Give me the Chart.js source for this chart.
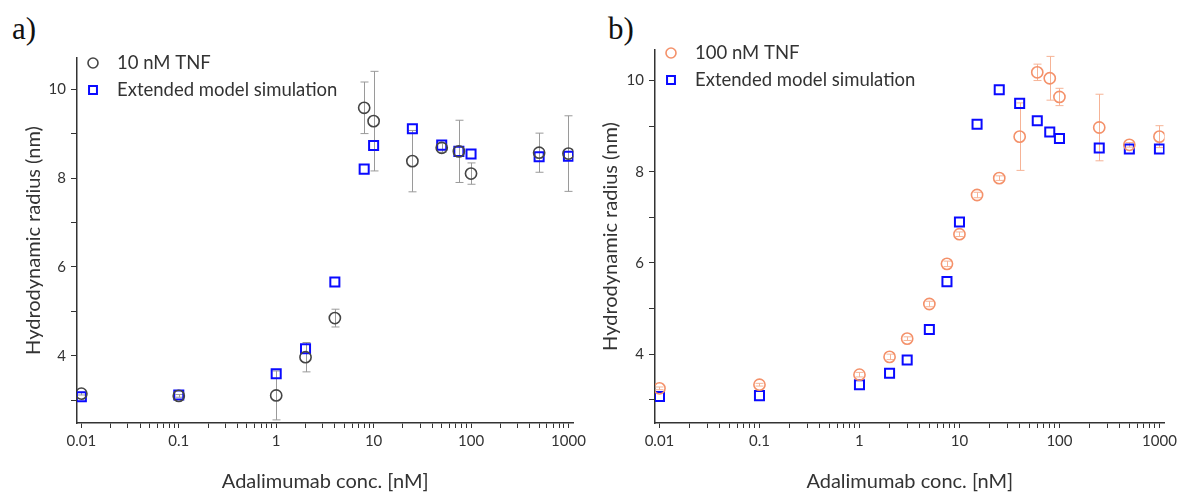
<!DOCTYPE html>
<html>
<head>
<meta charset="utf-8">
<script src="https://cdn.jsdelivr.net/npm/chart.js@4.4.1/dist/chart.umd.min.js"></script>
<style>
  body { margin: 0; background: #fff; }
  canvas { position: absolute; top: 0; }
  .tag { position: absolute; font-family: "Liberation Serif", serif; font-size: 31px; line-height: 1; color: #111; }
</style>
</head>
<body>
<div class="tag" style="left:12px;top:13px">a)</div>
<div class="tag" style="left:608px;top:13px">b)</div>
<canvas id="chartA" style="left:0" width="590" height="492"></canvas>
<canvas id="chartB" style="left:590px" width="591" height="492"></canvas>
<script>
// panel a: 10 nM TNF
const concA = [0.01, 0.1, 1, 2, 4, 8, 10, 25, 50, 75, 100, 500, 1000];
const tnf10 = [3.15, 3.1, 3.11, 3.97, 4.85, 9.58, 9.28, 8.38, 8.68, 8.6, 8.1, 8.57, 8.55];
const tnf10Err = [0.03, 0.03, 0.55, 0.33, 0.2, 0.58, 1.12, 0.69, 0.1, 0.7, 0.24, 0.44, 0.85];
const simA = [3.08, 3.12, 3.6, 4.16, 5.66, 8.2, 8.73, 9.11, 8.74, 8.6, 8.54, 8.48, 8.49];

// panel b: 100 nM TNF
const concB = [0.01, 0.1, 1, 2, 3, 5, 7.5, 10, 15, 25, 40, 60, 80, 100, 250, 500, 1000];
const tnf100 = [3.25, 3.33, 3.55, 3.94, 4.34, 5.1, 5.98, 6.63, 7.49, 7.86, 8.77, 10.18, 10.05, 9.64, 8.97, 8.59, 8.77];
const tnf100Err = [0.03, 0.03, 0.05, 0.06, 0.04, 0.06, 0.06, 0.05, 0.06, 0.05, 0.74, 0.18, 0.48, 0.19, 0.73, 0.05, 0.24];
const simB = [3.07, 3.09, 3.33, 3.58, 3.87, 4.54, 5.59, 6.9, 9.04, 9.8, 9.5, 9.12, 8.87, 8.73, 8.52, 8.5, 8.5];

// axes
const xTickValues = [0.01, 0.1, 1, 10, 100, 1000];
const xTickLabels = ['0.01', '0.1', '1', '10', '100', '1000'];
const yTickValues = [3, 4, 5, 6, 7, 8, 9, 10];
const yTickLabels = ['', '4', '', '6', '', '8', '', '10'];

const FONT = 'Lato, "Noto Sans", sans-serif';
const TXT = '#333';

// minor ticks 2..9 inside every decade
const xAllTicks = xTickValues.flatMap((d, i) =>
  i < xTickValues.length - 1 ? [1, 2, 3, 4, 5, 6, 7, 8, 9].map(k => k === 1 ? d : d * k) : [d]);

const errorBars = {
  id: 'errorBars',
  beforeDatasetsDraw(chart) {
    const { ctx, scales: { x, y } } = chart;
    chart.data.datasets.forEach(ds => {
      if (!ds.errors) return;
      ctx.save();
      ctx.strokeStyle = ds.errorColor;
      ctx.lineWidth = 1;
      ds.data.forEach((p, i) => {
        const e = ds.errors[i];
        const px = Math.round(x.getPixelForValue(p.x)) + 0.5;
        const top = y.getPixelForValue(p.y + e);
        const bot = y.getPixelForValue(p.y - e);
        ctx.beginPath();
        ctx.moveTo(px, top); ctx.lineTo(px, bot);
        ctx.moveTo(px - 4, top); ctx.lineTo(px + 4, top);
        ctx.moveTo(px - 4, bot); ctx.lineTo(px + 4, bot);
        ctx.stroke();
      });
      ctx.restore();
    });
  }
};

const insideLegend = {
  id: 'insideLegend',
  afterDraw(chart, args, opts) {
    const { ctx, chartArea } = chart;
    ctx.save();
    ctx.font = '18.5px ' + FONT;
    ctx.textBaseline = 'middle';
    chart.data.datasets.forEach((ds, i) => {
      const cy = chartArea.top + opts.top + i * opts.gap;
      const mx = chartArea.left + 16;
      ctx.strokeStyle = ds.borderColor;
      ctx.fillStyle = 'rgba(0,0,0,0)';
      ctx.lineWidth = ds.borderWidth;
      Chart.helpers.drawPoint(ctx, { pointStyle: ds.pointStyle, radius: ds.legendRadius, borderWidth: ds.borderWidth }, mx, cy);
      ctx.fillStyle = TXT;
      ctx.fillText(ds.label, chartArea.left + 40, cy);
    });
    ctx.restore();
  }
};

function makeChart(id, conc, meas, err, sim, o) {
  new Chart(document.getElementById(id), {
    type: 'scatter',
    data: {
      datasets: [{
        label: o.label,
        data: conc.map((c, i) => ({ x: c, y: meas[i] })),
        errors: err,
        errorColor: o.errColor,
        pointStyle: 'circle',
        pointRadius: 5.6,
        legendRadius: 5,
        borderWidth: 1.6,
        borderColor: o.color,
        backgroundColor: 'rgba(0,0,0,0)'
      }, {
        label: 'Extended model simulation',
        data: conc.map((c, i) => ({ x: c, y: sim[i] })),
        pointStyle: 'rect',
        pointRadius: 6.4,
        legendRadius: 5.6,
        borderWidth: 2,
        borderColor: '#0a0aff',
        backgroundColor: 'rgba(0,0,0,0)'
      }]
    },
    options: {
      responsive: false,
      animation: false,
      layout: { padding: { left: 0, right: o.padRight, top: o.padTop, bottom: 0 } },
      plugins: {
        legend: { display: false },
        tooltip: { enabled: false },
        insideLegend: { top: o.legTop, gap: o.legGap }
      },
      scales: {
        x: {
          type: 'logarithmic',
          min: 0.00902,
          max: 1125,
          afterBuildTicks: s => { s.ticks = xAllTicks.map(v => ({ value: v })); },
          afterFit: s => { s.height = 69; },
          ticks: {
            autoSkip: false, maxRotation: 0, padding: 4, color: TXT,
            font: { family: FONT, size: 15 },
            callback: v => { const k = xTickValues.indexOf(v); return k >= 0 ? xTickLabels[k] : ''; }
          },
          grid: { drawOnChartArea: false, tickLength: 5, tickColor: TXT },
          border: { color: TXT, width: 1.5 },
          title: {
            display: true, text: 'Adalimumab conc. [nM]', color: TXT,
            font: { family: FONT, size: 20 }, padding: { top: 0, bottom: -2 }
          }
        },
        y: {
          min: 2.49,
          max: o.yMax,
          afterBuildTicks: s => { s.ticks = yTickValues.map(v => ({ value: v })); },
          afterFit: s => { s.width = o.yWidth; },
          ticks: {
            padding: 5, color: TXT,
            font: { family: FONT, size: 15 },
            callback: v => yTickLabels[yTickValues.indexOf(v)]
          },
          grid: { drawOnChartArea: false, tickLength: 6, tickColor: TXT },
          border: { color: TXT, width: 1.5 },
          title: {
            display: true, text: 'Hydrodynamic radius (nm)', color: TXT,
            font: { family: FONT, size: 20 }, padding: { top: o.yTitlePad, bottom: 0 }
          }
        }
      }
    },
    plugins: [errorBars, insideLegend]
  });
}

makeChart('chartA', concA, tnf10, tnf10Err, simA, {
  label: '10 nM TNF', color: '#454545', errColor: '#9a9a9a',
  padRight: 15, padTop: 58, yMax: 10.7, yWidth: 77, yTitlePad: 22, legTop: 5, legGap: 27
});
makeChart('chartB', concB, tnf100, tnf100Err, simB, {
  label: '100 nM TNF', color: '#f4916a', errColor: '#f6b396',
  padRight: 16, padTop: 50, yMax: 10.67, yWidth: 65, yTitlePad: 9, legTop: 3, legGap: 27
});
</script>
</body>
</html>
